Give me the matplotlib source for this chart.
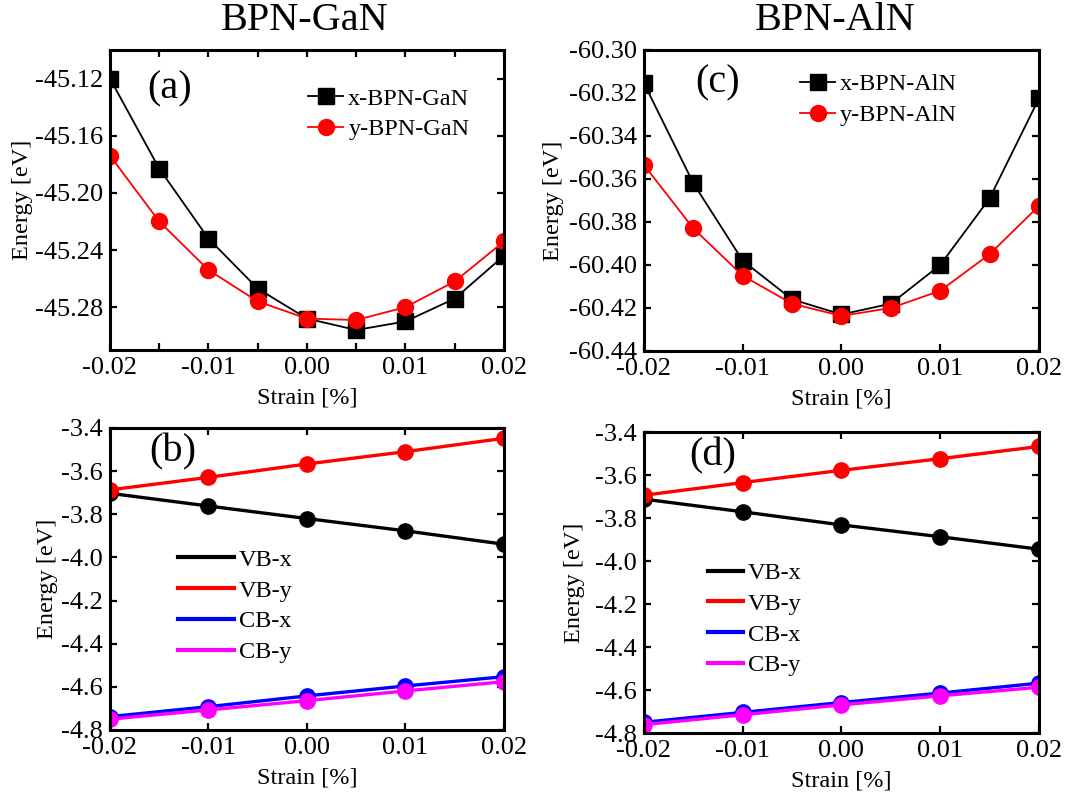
import matplotlib
matplotlib.use("Agg")
import matplotlib.pyplot as plt
from matplotlib.lines import Line2D

plt.rcParams['font.family'] = ['Liberation Serif', 'DejaVu Serif']
plt.rcParams['axes.unicode_minus'] = False

# total energy vs strain
strain_e = [-0.02, -0.015, -0.01, -0.005, 0.0, 0.005, 0.01, 0.015, 0.02]
gan_x = [-45.120, -45.183, -45.232, -45.267, -45.288, -45.296, -45.290, -45.274, -45.244]
gan_y = [-45.174, -45.220, -45.254, -45.276, -45.288, -45.289, -45.280, -45.262, -45.234]
aln_x = [-60.3155, -60.362, -60.398, -60.416, -60.423, -60.418, -60.400, -60.369, -60.3225]
aln_y = [-60.3535, -60.383, -60.405, -60.418, -60.4237, -60.420, -60.412, -60.395, -60.3725]

# band edges vs strain
strain_b = [-0.02, -0.01, 0.0, 0.01, 0.02]
gan_vbx = [-3.703, -3.762, -3.820, -3.877, -3.939]
gan_vby = [-3.687, -3.629, -3.567, -3.510, -3.448]
gan_cbx = [-4.738, -4.692, -4.642, -4.596, -4.553]
gan_cby = [-4.750, -4.707, -4.664, -4.619, -4.576]
aln_vbx = [-3.712, -3.771, -3.832, -3.887, -3.945]
aln_vby = [-3.694, -3.635, -3.578, -3.524, -3.467]
aln_cbx = [-4.750, -4.704, -4.658, -4.614, -4.568]
aln_cby = [-4.761, -4.715, -4.669, -4.627, -4.587]

band_labels = ['VB-x', 'VB-y', 'CB-x', 'CB-y']
band_colors = ['black', '#ff0000', '#0000ff', '#ff00ff']

FS = 17.5   # labels / legend
TFS = 19    # tick labels

fig = plt.figure(figsize=(10.78, 8.05), dpi=100)
ax_a = fig.add_axes([0.102, 0.5652, 0.3655, 0.3727])
ax_c = fig.add_axes([0.5974, 0.5640, 0.3664, 0.3739])
ax_b = fig.add_axes([0.102, 0.0932, 0.3655, 0.3752])
ax_d = fig.add_axes([0.5974, 0.0894, 0.3664, 0.3739])


def style(ax, top=True):
    for s in ax.spines.values():
        s.set_linewidth(2.2)
    ax.tick_params(direction='in', length=5, width=1.6, labelsize=TFS, pad=5,
                   top=top, right=True)
    ax.set_xlim(-0.02, 0.02)
    ax.set_xticks([-0.02, -0.01, 0.0, 0.01, 0.02])
    ax.set_xticklabels(['-0.02', '-0.01', '0.00', '0.01', '0.02'])
    ax.set_xlabel('Strain [%]', fontsize=FS, labelpad=6)


leg_kw = dict(loc='upper left', frameon=False, fontsize=FS, handletextpad=0.2,
              borderpad=0, borderaxespad=0, labelspacing=0.36)

# (a)
ax_a.plot(strain_e, gan_x, color='black', marker='s', ms=11, lw=1.3, label='x-BPN-GaN')
ax_a.plot(strain_e, gan_y, color='#ff0000', marker='o', ms=11.5, lw=1.3, label='y-BPN-GaN')
style(ax_a)
ax_a.set_xticks([-0.015, -0.005, 0.005, 0.015], minor=True)
ax_a.tick_params(which='minor', direction='in', length=5, width=1.6, top=True, right=True)
ax_a.set_ylim(-45.31, -45.10)
ax_a.set_yticks([-45.12, -45.16, -45.20, -45.24, -45.28])
ax_a.set_yticklabels(['-45.12', '-45.16', '-45.20', '-45.24', '-45.28'])
ax_a.set_ylabel('Energy [eV]', fontsize=FS)
ax_a.yaxis.set_label_coords(-0.195, 0.5)
ax_a.legend(bbox_to_anchor=(0.503, 0.875), handlelength=1.45, **leg_kw)
ax_a.text(0.152, 0.87, '(a)', transform=ax_a.transAxes, fontsize=29, ha='center', va='center')

# (c)
ax_c.plot(strain_e, aln_x, color='black', marker='s', ms=11, lw=1.3, label='x-BPN-AlN')
ax_c.plot(strain_e, aln_y, color='#ff0000', marker='o', ms=11.5, lw=1.3, label='y-BPN-AlN')
style(ax_c, top=False)
ax_c.set_ylim(-60.44, -60.30)
ax_c.set_yticks([-60.30, -60.32, -60.34, -60.36, -60.38, -60.40, -60.42, -60.44])
ax_c.set_yticklabels(['-60.30', '-60.32', '-60.34', '-60.36', '-60.38', '-60.40',
                      '-60.42', '-60.44'])
ax_c.set_ylabel('Energy [eV]', fontsize=FS)
ax_c.yaxis.set_label_coords(-0.203, 0.5)
ax_c.legend(bbox_to_anchor=(0.395, 0.922), handlelength=1.45, **leg_kw)
ax_c.text(0.186, 0.89, '(c)', transform=ax_c.transAxes, fontsize=29, ha='center', va='center')


def bands(ax, series, tag, tx, lx, ly, hl, ylx):
    for vals, c in zip(series, band_colors):
        ax.plot(strain_b, vals, color=c, marker='o', ms=11, lw=2.4)
    style(ax)
    ax.set_ylim(-4.8, -3.4)
    yt = [-3.4, -3.6, -3.8, -4.0, -4.2, -4.4, -4.6, -4.8]
    ax.set_yticks(yt)
    ax.set_yticklabels(['%.1f' % v for v in yt])
    ax.set_ylabel('Energy [eV]', fontsize=FS)
    ax.yaxis.set_label_coords(ylx, 0.5)
    handles = [Line2D([], [], color=c, lw=3) for c in band_colors]
    ax.legend(handles, band_labels, bbox_to_anchor=(lx, ly), handlelength=hl, **leg_kw)
    ax.text(tx, 0.92, tag, transform=ax.transAxes, fontsize=29, ha='center', va='center')


bands(ax_b, [gan_vbx, gan_vby, gan_cbx, gan_cby], '(b)', 0.16, 0.173, 0.60, 2.3, -0.132)
bands(ax_d, [aln_vbx, aln_vby, aln_cbx, aln_cby], '(d)', 0.175, 0.162, 0.568, 1.45, -0.149)

fig.text(0.283, 0.975, 'BPN-GaN', fontsize=29, ha='center', va='center')
fig.text(0.775, 0.975, 'BPN-AlN', fontsize=29, ha='center', va='center')

fig.savefig('out.png', dpi=100)
